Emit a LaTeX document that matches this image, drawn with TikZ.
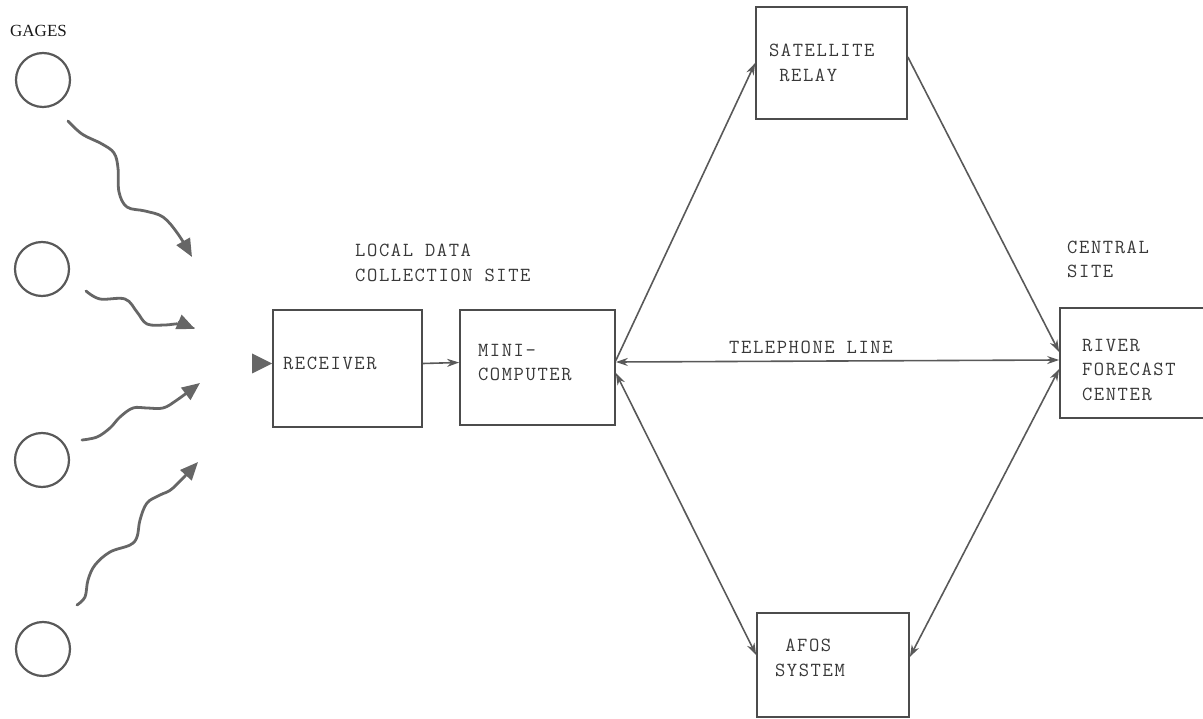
\documentclass[tikz,border=0pt]{standalone}
\usepackage{fontspec}
\newfontfamily\typer[LetterSpace=8]{Latin Modern Mono}
\newfontfamily\gagefont{Liberation Serif}
\newcommand\lift[1]{\rule[-#1]{0pt}{#1}}
\newcommand\sink[1]{\rule{0pt}{#1}}
\usetikzlibrary{arrows.meta}

\begin{document}
\begin{tikzpicture}[x=1pt,y=-1pt,
    >={Stealth[length=12pt,width=8pt]},
    box/.style={draw=black!70,line width=1.7pt,rectangle,align=left,
      font=\typer\fontsize{20}{24.5}\selectfont,text=black!78},
    plain/.style={align=left,inner sep=0pt,
      font=\typer\fontsize{20}{24.5}\selectfont,text=black!78},
    link/.style={draw=black!65,line width=1.6pt},
    wave/.style={draw=black!60,line width=2.8pt,line cap=round,
      -{Triangle[length=18pt,width=15pt]}}]

      \useasboundingbox (0,0) rectangle (1203,719);
      \clip (0,0) rectangle (1203,719);

      % gages
      \node[font=\gagefont\fontsize{17}{20}\selectfont,text=black!90,anchor=west,inner sep=0pt]
        (gages) at (10,31) {GAGES};
      \begin{scope}[every node/.style={circle,draw=black!65,line width=2.2pt,minimum size=54pt}]
        \node (g1) at (43,80)  {};
        \node (g2) at (42,269) {};
        \node (g3) at (42,460) {};
        \node (g4) at (43,649) {};
      \end{scope}

      % radio paths
      \coordinate (w1a) at (68,121);  \coordinate (w1b) at (192,257);
      \coordinate (w2a) at (86,291);  \coordinate (w2b) at (195,329);
      \coordinate (w3a) at (82,440);  \coordinate (w3b) at (200,383);
      \coordinate (w4a) at (77,605);  \coordinate (w4b) at (198,462);
      \draw[wave] plot[smooth,tension=0.6] coordinates {(w1a) (82,134) (102,144) (114,153)
        (118,168) (119,192) (127,207) (145,211) (163,217) (178,234) (w1b)};
      \draw[wave] plot[smooth,tension=0.6] coordinates {(w2a) (100,299) (125,299)
        (137,312) (147,324) (165,325) (180,324) (w2b)};
      \draw[wave] plot[smooth,tension=0.6] coordinates {(w3a) (97,437) (110,428)
        (120,417) (133,408) (147,408) (163,408) (177,400) (w3b)};
      \draw[wave] plot[smooth,tension=0.6] coordinates {(w4a) (85,597) (88,580)
        (95,565) (110,552) (130,545) (137,537) (140,520) (147,503) (160,495)
        (173,488) (w4b)};

      % boxes
      \node[box,inner xsep=10pt,text width=129pt,minimum height=117pt]
        (recv) at (347.5,368.5) {RECEIVER\lift{10pt}};
      \node[box,inner xsep=18pt,text width=119pt,minimum height=115pt]
        (mini) at (537.5,367.5) {MINI-\\COMPUTER\lift{10pt}};
      \node[box,inner xsep=13pt,text width=125pt,minimum height=112pt]
        (sat) at (831.5,63) {SATELLITE\\\hphantom{S}RELAY};
      \node[box,inner xsep=22pt,text width=111pt,minimum height=110pt]
        (rfc) at (1137.5,363) {\sink{26pt}RIVER\\FORECAST\\CENTER};
      \node[box,inner xsep=18pt,text width=116pt,minimum height=104pt]
        (afos) at (833,665) {\hphantom{S}AFOS\\SYSTEM\lift{15pt}};

      \node[plain,anchor=west] (local) at (355,263) {LOCAL DATA\\COLLECTION SITE};
      \node[plain,anchor=west] (central) at (1067,259.5) {CENTRAL\\SITE};

      % links
      \fill[black!60] ([yshift=5pt]recv.west) -- ++(-20,-10) -- ++(0,20) -- cycle;
      \draw[link,->] ([yshift=5pt]recv.east) -- ([yshift=5pt]mini.west);
      \draw[link,<->] ([yshift=5.5pt]mini.east) -- node[plain,above=6.5pt,pos=0.44] {TELEPHONE LINE}
        ([yshift=3pt]rfc.west);
      \draw[link,->] ([yshift=7pt]mini.east) -- (sat.west);
      \draw[link,->] ([yshift=6pt]sat.east) -- ([yshift=11pt]rfc.west);
      \draw[link,<->] ([yshift=-5.5pt]mini.east) -- ([yshift=10pt]afos.west);
      \draw[link,<->] ([yshift=8pt]afos.east) -- ([yshift=-6pt]rfc.west);

    \end{tikzpicture}
\end{document}
